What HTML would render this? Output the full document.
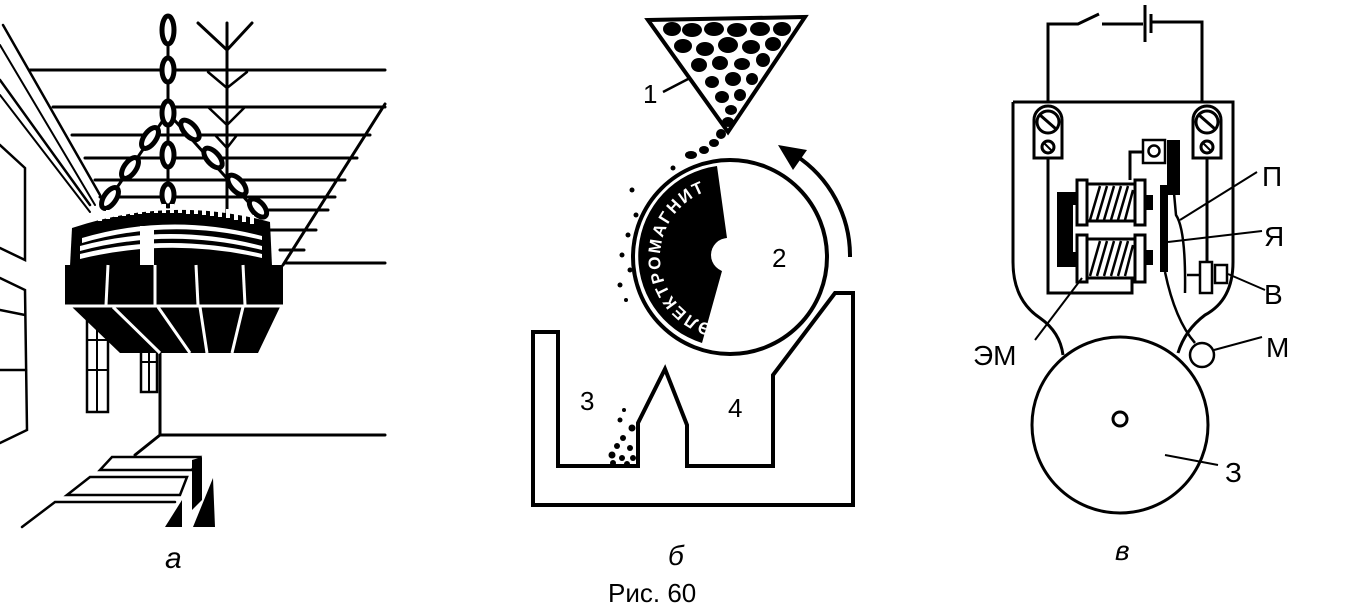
<!DOCTYPE html>
<html><head><meta charset="utf-8"><style>
html,body{margin:0;padding:0;background:#fff;}
svg{display:block;}
text{font-family:"Liberation Sans",sans-serif;fill:#000;}
</style></head><body>
<svg width="1357" height="612" viewBox="0 0 1357 612" xmlns="http://www.w3.org/2000/svg">
<g stroke="#000" fill="none" stroke-width="3" stroke-linecap="round">
<line x1="30" y1="70" x2="385" y2="70"/>
<line x1="53" y1="107" x2="385" y2="107"/>
<line x1="72" y1="135" x2="370" y2="135"/>
<line x1="85" y1="158" x2="357" y2="158"/>
<line x1="95" y1="180" x2="345" y2="180"/>
<line x1="100" y1="197" x2="335" y2="197"/>
<line x1="260" y1="210" x2="328" y2="210"/>
<line x1="270" y1="230" x2="316" y2="230"/>
<line x1="280" y1="250" x2="304" y2="250"/>
<line x1="285" y1="263" x2="385" y2="263"/>
<line x1="385" y1="104" x2="283" y2="265"/>
<line x1="3" y1="25" x2="100" y2="195" stroke-width="2.5"/>
<line x1="0" y1="45" x2="95" y2="205" stroke-width="2"/>
<line x1="0" y1="80" x2="90" y2="205" stroke-width="2.5"/>
<line x1="0" y1="95" x2="90" y2="212" stroke-width="2"/>
<polyline points="0,145 25,168 25,260 0,248" stroke-width="2.5"/>
<polyline points="0,278 25,290 27,430 0,443" stroke-width="2.5"/>
<line x1="0" y1="310" x2="25" y2="315" stroke-width="2.5"/>
<line x1="0" y1="370" x2="26" y2="370" stroke-width="2.5"/>
<line x1="160" y1="352" x2="160" y2="435"/>
<line x1="160" y1="435" x2="385" y2="435"/>
<line x1="160" y1="435" x2="135" y2="455"/>
<rect x="87" y="318" width="21" height="94" stroke-width="2.5"/>
<line x1="97" y1="318" x2="97" y2="412" stroke-width="2"/>
<line x1="87" y1="340" x2="108" y2="340" stroke-width="2"/>
<line x1="87" y1="370" x2="108" y2="370" stroke-width="2"/>
<rect x="141" y="342" width="16" height="50" stroke-width="2.5"/>
<line x1="149" y1="342" x2="149" y2="392" stroke-width="2"/>
<line x1="141" y1="362" x2="157" y2="362" stroke-width="2"/>
<polygon points="112,457 200,457 192,470 100,470" stroke-width="2.5"/>
<polygon points="90,477 187,477 180,495 67,495" stroke-width="2.5"/>
<polyline points="22,527 55,502 175,502" stroke-width="2.5"/>
<line x1="227" y1="23" x2="227" y2="215"/>
<polyline points="198,23 227,50 252,23"/>
<polyline points="208,72 227,88 247,72" stroke-width="2.5"/>
<polyline points="208,107 227,125 245,107" stroke-width="2.5"/>
<polyline points="215,135 227,148 237,135" stroke-width="2.5"/>
<line x1="168" y1="40" x2="168" y2="200"/>
<line x1="168" y1="113" x2="105" y2="205"/>
<line x1="168" y1="113" x2="260" y2="215"/>
</g>
<g fill="#fff" stroke="#000" stroke-width="5">
<ellipse cx="168" cy="30" rx="6" ry="14"/>
<ellipse cx="168" cy="70" rx="6" ry="12"/>
<ellipse cx="168" cy="113" rx="6" ry="12"/>
<ellipse cx="168" cy="155" rx="6" ry="12"/>
<ellipse cx="168" cy="195" rx="6" ry="11"/>
<ellipse cx="150" cy="138" rx="6" ry="12" transform="rotate(35 150 138)"/>
<ellipse cx="130" cy="168" rx="6" ry="12" transform="rotate(35 130 168)"/>
<ellipse cx="110" cy="198" rx="6" ry="12" transform="rotate(35 110 198)"/>
<ellipse cx="190" cy="130" rx="6" ry="12" transform="rotate(-42 190 130)"/>
<ellipse cx="213" cy="158" rx="6" ry="12" transform="rotate(-42 213 158)"/>
<ellipse cx="237" cy="185" rx="6" ry="12" transform="rotate(-42 237 185)"/>
<ellipse cx="258" cy="208" rx="6" ry="11" transform="rotate(-42 258 208)"/>
</g>
<path d="M72,228 Q170,195 270,222 L272,266 L70,266 Z" fill="#000"/>
<g fill="#fff">
<path d="M82,238 Q170,212 262,236 L262,240 Q170,217 82,243 Z"/>
<path d="M80,246 Q170,222 262,246 L262,250 Q170,227 80,251 Z"/>
<path d="M80,254 Q170,232 262,254 L262,258 Q170,237 80,259 Z"/>
<rect x="140" y="226" width="14" height="40"/>
</g>
<g fill="#fff">
<rect x="98" y="212" width="4" height="9"/><rect x="106" y="210" width="4" height="9"/><rect x="114" y="208" width="4" height="9"/><rect x="122" y="207" width="4" height="9"/><rect x="130" y="206" width="4" height="9"/><rect x="138" y="205" width="4" height="9"/><rect x="146" y="204" width="4" height="9"/><rect x="154" y="204" width="4" height="9"/><rect x="162" y="204" width="4" height="9"/><rect x="170" y="204" width="4" height="9"/><rect x="178" y="204" width="4" height="9"/><rect x="186" y="205" width="4" height="9"/><rect x="194" y="205" width="4" height="9"/><rect x="202" y="206" width="4" height="9"/><rect x="210" y="207" width="4" height="9"/><rect x="218" y="208" width="4" height="9"/><rect x="226" y="209" width="4" height="9"/><rect x="234" y="211" width="4" height="9"/><rect x="242" y="213" width="4" height="9"/><rect x="250" y="215" width="4" height="9"/>
</g>
<rect x="65" y="265" width="218" height="40" fill="#000"/>
<polygon points="72,307 280,307 258,353 120,353" fill="#000"/>
<g stroke="#fff" stroke-width="3">
<line x1="108" y1="265" x2="106" y2="305"/>
<line x1="155" y1="265" x2="155" y2="305"/>
<line x1="196" y1="265" x2="198" y2="305"/>
<line x1="243" y1="265" x2="245" y2="305"/>
<line x1="65" y1="306" x2="283" y2="306"/>
<line x1="113" y1="307" x2="160" y2="353"/>
<line x1="158" y1="307" x2="190" y2="353"/>
<line x1="200" y1="307" x2="207" y2="353"/>
<line x1="243" y1="307" x2="232" y2="353"/>
</g>
<polygon points="192,460 202,457 202,500 192,510" fill="#000"/>
<polygon points="165,527 182,500 182,527" fill="#000"/>
<polygon points="193,527 213,478 215,527" fill="#000"/>
<text x="165" y="568" font-size="30" font-style="italic">a</text>

<!-- Panel b -->
<polygon points="648,20 805,17 728,132" fill="#fff" stroke="#000" stroke-width="4"/>
<g fill="#000">
<ellipse cx="672" cy="29" rx="9" ry="7"/><ellipse cx="692" cy="30" rx="10" ry="7"/><ellipse cx="714" cy="29" rx="10" ry="7"/><ellipse cx="737" cy="30" rx="10" ry="7"/><ellipse cx="760" cy="29" rx="10" ry="7"/><ellipse cx="782" cy="29" rx="9" ry="7"/>
<ellipse cx="683" cy="46" rx="9" ry="7"/><ellipse cx="705" cy="49" rx="9" ry="7"/><ellipse cx="728" cy="45" rx="10" ry="8"/><ellipse cx="751" cy="47" rx="9" ry="7"/><ellipse cx="773" cy="44" rx="8" ry="7"/>
<ellipse cx="699" cy="65" rx="8" ry="7"/><ellipse cx="720" cy="63" rx="8" ry="7"/><ellipse cx="742" cy="64" rx="8" ry="6"/><ellipse cx="763" cy="60" rx="7" ry="7"/>
<ellipse cx="712" cy="82" rx="7" ry="6"/><ellipse cx="733" cy="79" rx="8" ry="7"/><ellipse cx="752" cy="79" rx="6" ry="6"/>
<ellipse cx="722" cy="97" rx="7" ry="6"/><ellipse cx="740" cy="95" rx="6" ry="6"/>
<ellipse cx="731" cy="110" rx="6" ry="5"/><ellipse cx="728" cy="122" rx="6" ry="5"/>
<ellipse cx="721" cy="134" rx="5" ry="5"/><ellipse cx="714" cy="143" rx="5" ry="4"/><ellipse cx="704" cy="150" rx="5" ry="4"/><ellipse cx="691" cy="155" rx="6" ry="4"/>
</g>
<line x1="663" y1="92" x2="690" y2="78" stroke="#000" stroke-width="2.5"/>
<text x="643" y="103" font-size="26">1</text>
<circle cx="730" cy="257" r="97" fill="#fff" stroke="#000" stroke-width="4"/>
<path d="M717,166 A91,91 0 0 0 702,343 L722,271 A18,18 0 0 1 727,238 Z" fill="#000"/>
<circle cx="728" cy="255" r="17" fill="#fff"/>
<path id="arcT" d="M711.9,324.6 A70,70 0 0 1 717.8,188.1" fill="none"/>
<text font-size="17" font-weight="bold" style="fill:#fff" letter-spacing="2"><textPath href="#arcT">ЭЛЕКТРОМАГНИТ</textPath></text>
<g fill="#000">
<circle cx="636" cy="215" r="2.5"/><circle cx="628" cy="235" r="2.5"/><circle cx="622" cy="255" r="2.5"/><circle cx="630" cy="270" r="2.5"/><circle cx="620" cy="285" r="2.5"/><circle cx="632" cy="190" r="2.5"/><circle cx="673" cy="168" r="2.5"/><circle cx="626" cy="300" r="2"/>
</g>
<path d="M850,257 A120,120 0 0 0 795,155" fill="none" stroke="#000" stroke-width="4"/>
<polygon points="778,145 807,150 793,170" fill="#000"/>
<text x="772" y="267" font-size="26">2</text>
<path d="M533,332 L558,332 L558,466 L638,466 L638,423 L665,369 L687,425 L687,466 L773,466 L773,375 L835,293 L853,293 L853,505 L533,505 Z" fill="none" stroke="#000" stroke-width="4"/>
<text x="580" y="410" font-size="26">3</text>
<text x="728" y="417" font-size="26">4</text>
<g fill="#000">
<circle cx="632" cy="428" r="3.5"/><circle cx="623" cy="438" r="3"/><circle cx="617" cy="446" r="3"/><circle cx="630" cy="448" r="3"/><circle cx="612" cy="455" r="3.5"/><circle cx="622" cy="458" r="3"/><circle cx="633" cy="458" r="3"/><circle cx="613" cy="463" r="3"/><circle cx="627" cy="464" r="3"/><circle cx="620" cy="420" r="2.5"/><circle cx="624" cy="410" r="2"/>
</g>
<text x="668" y="565" font-size="28" font-style="italic">б</text>
<text x="608" y="602" font-size="26">Рис. 60</text>

<!-- Panel c -->
<g stroke="#000" fill="none" stroke-width="3">
<polyline points="1048,102 1048,24 1078,24 1099,14"/>
<line x1="1102" y1="24" x2="1143" y2="24"/>
<line x1="1145" y1="5" x2="1145" y2="42"/>
<line x1="1151" y1="14" x2="1151" y2="33"/>
<polyline points="1151,22 1202,22 1202,102"/>
<path d="M1013,102 L1233,102 L1233,262 Q1233,300 1205,315 Q1185,330 1178,353"/>
<path d="M1013,102 L1013,262 Q1013,300 1040,318 Q1060,332 1063,355"/>
<circle cx="1120" cy="425" r="88"/>
<circle cx="1120" cy="419" r="7"/>
<polyline points="1048,158 1048,293 1132,293 1132,277"/>
<polyline points="1143,152 1130,152 1130,180"/>
<line x1="1207" y1="158" x2="1207" y2="262"/>
<path d="M1174,193 L1176,215 Q1186,230 1185,293" stroke-width="2.5"/>
<path d="M1165,272 Q1175,320 1195,343" stroke-width="2.5"/>
<circle cx="1202" cy="355" r="12" stroke-width="2.5"/>
<rect x="1143" y="140" width="22" height="23" stroke-width="2.5"/>
<circle cx="1154" cy="151" r="5.5" stroke-width="2.5"/>
<rect x="1200" y="262" width="12" height="31" stroke-width="2.5"/>
<rect x="1215" y="265" width="12" height="18" stroke-width="2.5"/>
<line x1="1187" y1="275" x2="1200" y2="275" stroke-width="2.5"/>
</g>
<g fill="#fff" stroke="#000" stroke-width="3">
<path d="M1034,158 L1034,120 A14,14 0 0 1 1062,120 L1062,158 Z"/>
<path d="M1193,158 L1193,120 A14,14 0 0 1 1221,120 L1221,158 Z"/>
<circle cx="1048" cy="122" r="11"/><circle cx="1207" cy="122" r="11"/>
<circle cx="1048" cy="147" r="6"/><circle cx="1207" cy="147" r="6"/>
</g>
<g stroke="#000" stroke-width="3">
<line x1="1040" y1="115" x2="1056" y2="129"/><line x1="1199" y1="115" x2="1215" y2="129"/>
<line x1="1044" y1="143" x2="1052" y2="151" stroke-width="2"/><line x1="1203" y1="143" x2="1211" y2="151" stroke-width="2"/>
</g>
<path d="M1057,192 L1080,192 L1080,205 L1073,205 L1073,252 L1080,252 L1080,267 L1057,267 Z" fill="#000"/>
<rect x="1167" y="140" width="13" height="55" fill="#000"/>
<rect x="1160" y="185" width="8" height="87" fill="#000"/>
<rect x="1145" y="195" width="8" height="15" fill="#000"/>
<rect x="1145" y="250" width="8" height="15" fill="#000"/>
<g fill="#fff" stroke="#000" stroke-width="3">
<rect x="1077" y="180" width="10" height="45"/><rect x="1135" y="180" width="10" height="45"/>
<rect x="1077" y="235" width="10" height="47"/><rect x="1135" y="235" width="10" height="47"/>
<rect x="1087" y="184" width="48" height="37"/>
<rect x="1087" y="239" width="48" height="39"/>
</g>
<g stroke="#000" stroke-width="2.5">
<line x1="1090" y1="220" x2="1100" y2="186"/><line x1="1097" y1="220" x2="1107" y2="186"/><line x1="1104" y1="220" x2="1114" y2="186"/><line x1="1111" y1="220" x2="1121" y2="186"/><line x1="1118" y1="220" x2="1128" y2="186"/><line x1="1125" y1="220" x2="1133" y2="190"/>
<line x1="1090" y1="276" x2="1100" y2="241"/><line x1="1097" y1="276" x2="1107" y2="241"/><line x1="1104" y1="276" x2="1114" y2="241"/><line x1="1111" y1="276" x2="1121" y2="241"/><line x1="1118" y1="276" x2="1128" y2="241"/><line x1="1125" y1="276" x2="1133" y2="245"/>
</g>
<g stroke="#000" stroke-width="2">
<line x1="1180" y1="220" x2="1257" y2="172"/>
<line x1="1168" y1="242" x2="1262" y2="231"/>
<line x1="1228" y1="274" x2="1265" y2="290"/>
<line x1="1214" y1="350" x2="1262" y2="337"/>
<line x1="1035" y1="340" x2="1082" y2="278"/>
<line x1="1165" y1="455" x2="1218" y2="465"/>
</g>
<g font-size="28">
<text x="1262" y="186">П</text>
<text x="1264" y="246">Я</text>
<text x="1264" y="304">В</text>
<text x="1266" y="357">М</text>
<text x="973" y="365">ЭМ</text>
<text x="1225" y="482">З</text>
</g>
<text x="1115" y="560" font-size="28" font-style="italic">в</text>
</svg>
</body></html>
